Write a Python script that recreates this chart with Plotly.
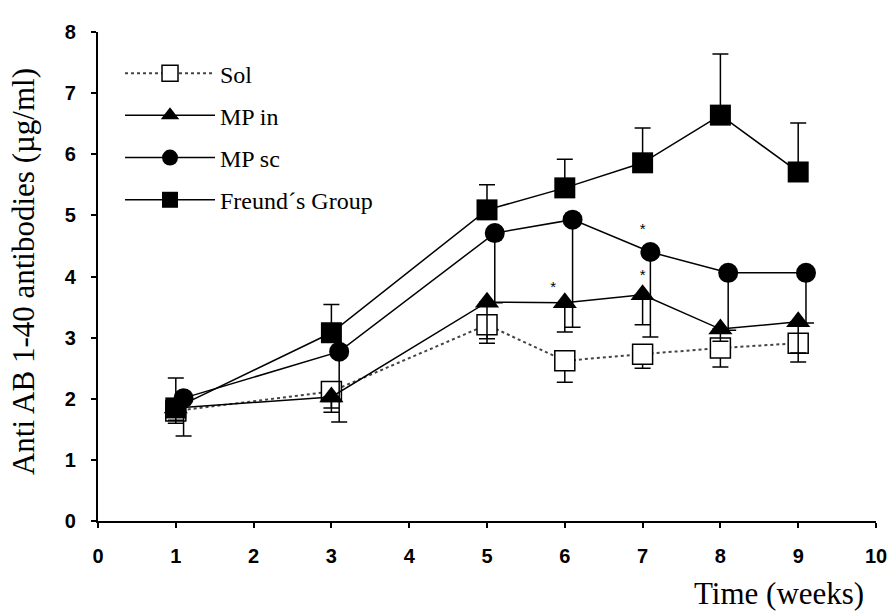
import plotly.graph_objects as go

weeks = [1, 3, 5, 6, 7, 8, 9]
sc_offset = 0.1

sol = [1.80, 2.12, 3.21, 2.62, 2.73, 2.83, 2.91]
sol_err = [0.20, 0.27, 0.30, 0.35, 0.23, 0.31, 0.31]

mp_in = [1.85, 2.03, 3.58, 3.57, 3.70, 3.14, 3.26]
mp_in_err = [0.20, 0.25, 0.60, 0.48, 0.49, 0.20, 0.51]

mp_sc = [2.01, 2.77, 4.71, 4.93, 4.40, 4.06, 4.06]
mp_sc_err = [0.62, 1.15, 1.14, 1.76, 1.39, 0.94, 0.82]

freund = [1.85, 3.08, 5.09, 5.45, 5.86, 6.64, 5.71]
freund_err = [0.49, 0.46, 0.41, 0.47, 0.57, 1.00, 0.80]

star_x = [5.85, 7.0, 7.0]
star_y = [3.80, 4.01, 4.76]

zeros = [0] * len(weeks)
fig = go.Figure()

def err_down(vals):
    return dict(type="data", symmetric=False, array=zeros, arrayminus=vals,
                color="black", thickness=1.5, width=8)

fig.add_trace(go.Scatter(
    x=weeks, y=sol, name="Sol", legendgroup="a", mode="lines+markers",
    line=dict(color="#444", width=2, dash="dot"),
    marker=dict(symbol="square", size=20, color="white", line=dict(color="black", width=1.5)),
    error_y=err_down(sol_err)))

fig.add_trace(go.Scatter(
    x=weeks, y=mp_in, name="MP in", legendgroup="b", mode="lines+markers",
    line=dict(color="black", width=1.5),
    marker=dict(symbol="triangle-up", size=21, color="black"),
    error_y=err_down(mp_in_err)))

fig.add_trace(go.Scatter(
    x=[w + sc_offset for w in weeks], y=mp_sc, name="MP sc", legendgroup="c", mode="lines+markers",
    line=dict(color="black", width=1.5),
    marker=dict(symbol="circle", size=20, color="black"),
    error_y=err_down(mp_sc_err)))

fig.add_trace(go.Scatter(
    x=weeks, y=freund, name="Freund´s Group", legendgroup="d", mode="lines+markers",
    line=dict(color="black", width=1.5),
    marker=dict(symbol="square", size=21, color="black"),
    error_y=dict(type="data", symmetric=False, array=freund_err, arrayminus=zeros,
                 color="black", thickness=1.5, width=8)))

fig.add_trace(go.Scatter(
    x=star_x, y=star_y, mode="text", text=["*"] * len(star_x), showlegend=False,
    textfont=dict(family="Liberation Sans", size=15, color="black")))

fig.update_layout(
    width=887, height=612,
    margin=dict(l=98, r=11, t=32, b=91),
    paper_bgcolor="white", plot_bgcolor="white",
    showlegend=True,
    legend=dict(x=0.0283, y=0.961, xanchor="left", yanchor="top",
                font=dict(family="Liberation Serif", size=24, color="black"),
                itemwidth=90,
                traceorder="grouped", tracegroupgap=8, bgcolor="rgba(0,0,0,0)"),
    xaxis=dict(range=[0, 10], dtick=1, tick0=0, showgrid=False, zeroline=False,
               automargin=False, ticklabeloverflow="allow",
               showline=True, linecolor="black", linewidth=2,
               ticks="outside", ticklen=5, tickwidth=2, tickcolor="black",
               ticklabelstandoff=11,
               tickfont=dict(family="Liberation Sans", size=20, color="black", weight="bold")),
    yaxis=dict(range=[0, 8], dtick=1, tick0=0, showgrid=False, zeroline=False,
               automargin=False, ticklabeloverflow="allow",
               showline=True, linecolor="black", linewidth=2,
               ticks="outside", ticklen=5, tickwidth=2, tickcolor="black",
               ticksuffix="\u2007",
               tickfont=dict(family="Liberation Sans", size=20, color="black", weight="bold")),
    annotations=[
        dict(text="Time (weeks)", xref="paper", yref="paper", x=0.987, y=-0.148,
             xanchor="right", yanchor="middle", showarrow=False,
             font=dict(family="Liberation Serif", size=31, color="black")),
        dict(text="Anti AB 1-40 antibodies (µg/ml)", xref="paper", yref="paper",
             x=-0.0965, y=0.511, textangle=-90,
             xanchor="center", yanchor="middle", showarrow=False,
             font=dict(family="Liberation Serif", size=31, color="black")),
    ],
)

fig.write_html("out.html", config={"displayModeBar": False},
               post_script="document.body.style.margin='0';")
